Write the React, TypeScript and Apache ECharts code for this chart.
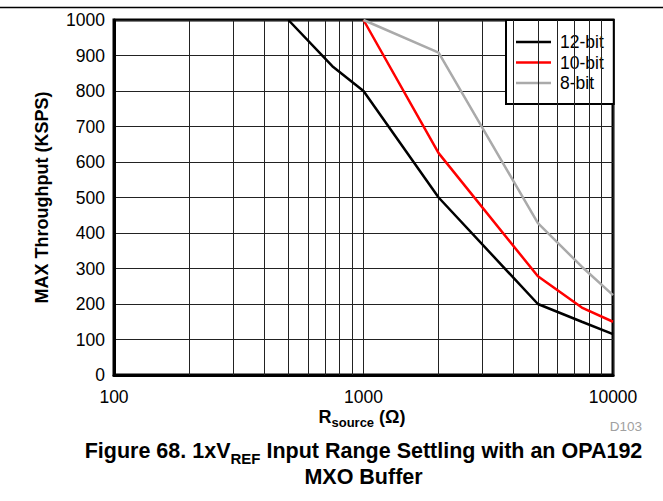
import React, { useEffect, useRef } from "react";
import * as echarts from "echarts";

// Data
const xMin = 100;
const xMax = 10000;
const yMin = 0;
const yMax = 1000;
const yStep = 100;
const minorGridX = [200, 300, 400, 500, 600, 700, 800, 900, 2000, 3000, 4000, 5000, 6000, 7000, 8000, 9000];

const seriesNames = ["12-bit", "10-bit", "8-bit"];
const bit12R = [500, 750, 1000, 2000, 5000, 7500, 10000];
const bit12K = [1000, 870, 800, 500, 200, 150, 115];
const bit10R = [1000, 2000, 5000, 7500, 10000];
const bit10K = [1000, 625, 278, 190, 150];
const bit8R = [1000, 2000, 5000, 7500, 10000];
const bit8K = [1000, 908, 428, 305, 225];

const FONT = "'Liberation Sans', Arial, Helvetica, sans-serif";

function zip(xs: number[], ys: number[]) {
  return xs.map((x, i) => [x, ys[i]]);
}

export default function App() {
  const ref = useRef<HTMLDivElement>(null);

  useEffect(() => {
    if (!ref.current) return;
    const chart = echarts.init(ref.current, undefined, { renderer: "svg" });
    const colors = ["#000000", "#ff0000", "#aaaaaa"];
    const datasets = [zip(bit12R, bit12K), zip(bit10R, bit10K), zip(bit8R, bit8K)];

    const option: any = {
      animation: false,
      backgroundColor: "#ffffff",
      textStyle: { fontFamily: FONT },
      grid: {
        left: 114,
        right: 50,
        top: 20,
        bottom: 126,
        show: true,
        borderColor: "#000",
        borderWidth: 3,
        backgroundColor: "transparent",
      },
      legend: {
        data: seriesNames.map((n) => ({ name: n, icon: "rect" })),
        orient: "vertical",
        left: 506,
        top: 20,
        padding: [13, 10, 12, 10],
        itemWidth: 35,
        itemHeight: 2.5,
        itemGap: 2.5,
        backgroundColor: "#ffffff",
        borderColor: "#000",
        borderWidth: 2,
        borderRadius: 0,
        textStyle: { fontSize: 17.5, color: "#000", fontFamily: FONT, padding: [0, 0, 0, 4] },
        selectedMode: false,
      },
      xAxis: {
        type: "log",
        logBase: 10,
        min: xMin,
        max: xMax,
        axisLine: { show: true, lineStyle: { color: "#000", width: 3 } },
        axisTick: { show: false },
        axisLabel: {
          fontSize: 17.5,
          color: "#000",
          fontFamily: FONT,
          margin: 13,
          formatter: (v: number) => String(Math.round(v)),
        },
        splitLine: { show: true, lineStyle: { color: "#222", width: 1 } },
      },
      yAxis: {
        type: "value",
        min: yMin,
        max: yMax,
        interval: yStep,
        axisLine: { show: true, lineStyle: { color: "#000", width: 3 } },
        axisTick: { show: false },
        axisLabel: {
          fontSize: 17.5,
          color: "#000",
          fontFamily: FONT,
          margin: 9,
          formatter: (v: number) => String(v),
        },
        splitLine: { show: true, lineStyle: { color: "#222", width: 1 } },
      },
      series: [
        {
          name: "minor-grid",
          type: "line",
          data: [],
          z: 1,
          silent: true,
          markLine: {
            silent: true,
            symbol: ["none", "none"],
            label: { show: false },
            emphasis: { disabled: true },
            lineStyle: { color: "#222", width: 1, type: "solid" },
            data: minorGridX.map((v) => ({ xAxis: v })),
          },
        },
        ...seriesNames.map((name, i) => ({
          name,
          type: "line",
          data: datasets[i],
          z: 5,
          symbol: "none",
          showSymbol: false,
          lineStyle: { color: colors[i], width: 2.5 },
          itemStyle: { color: colors[i] },
          emphasis: { disabled: true },
        })),
      ],
      graphic: [
        {
          type: "line",
          shape: { x1: 0, y1: 7.5, x2: 663, y2: 7.5 },
          style: { stroke: "#000", lineWidth: 1.5 },
          silent: true,
        },
        {
          type: "text",
          x: 42,
          y: 197.5,
          rotation: Math.PI / 2,
          style: {
            text: "MAX Throughput (KSPS)",
            fontSize: 18,
            fontWeight: "bold",
            fontFamily: FONT,
            fill: "#000",
            textAlign: "center",
            textVerticalAlign: "middle",
          },
        },
        {
          type: "text",
          x: 362,
          y: 417,
          style: {
            text: "{m|R}{s|source}{m| (Ω)}",
            textAlign: "center",
            textVerticalAlign: "middle",
            fill: "#000",
            rich: {
              m: { fontSize: 18, fontWeight: "bold", fontFamily: FONT, fill: "#000" },
              s: { fontSize: 13, fontWeight: "bold", fontFamily: FONT, fill: "#000", padding: [10, 0, 0, 0] },
            },
          },
        },
        {
          type: "text",
          x: 642,
          y: 426,
          style: {
            text: "D103",
            fontSize: 13.5,
            fontFamily: FONT,
            fill: "#a0a0a0",
            textAlign: "right",
            textVerticalAlign: "middle",
          },
        },
        {
          type: "text",
          x: 363.5,
          y: 451,
          style: {
            text: "{m|Figure 68. 1xV}{s|REF}{m| Input Range Settling with an OPA192}",
            textAlign: "center",
            textVerticalAlign: "middle",
            fill: "#000",
            rich: {
              m: { fontSize: 21.5, fontWeight: "bold", fontFamily: FONT, fill: "#000" },
              s: { fontSize: 15, fontWeight: "bold", fontFamily: FONT, fill: "#000", padding: [14, 0, 0, 0] },
            },
          },
        },
        {
          type: "text",
          x: 363.5,
          y: 477,
          style: {
            text: "MXO Buffer",
            fontSize: 21.5,
            fontWeight: "bold",
            fontFamily: FONT,
            fill: "#000",
            textAlign: "center",
            textVerticalAlign: "middle",
          },
        },
      ],
    };

    chart.setOption(option);
    return () => {
      chart.dispose();
    };
  }, []);

  return (
    <div
      ref={ref}
      style={{ position: "absolute", left: 0, top: 0, width: 663, height: 501, background: "#fff" }}
    />
  );
}
